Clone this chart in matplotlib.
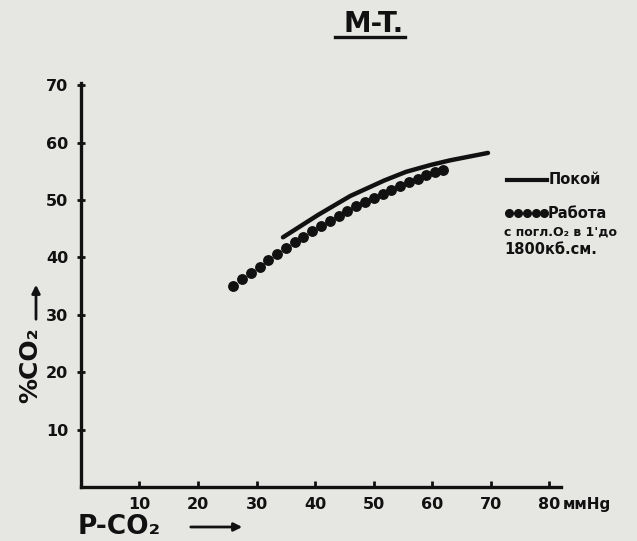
import matplotlib.pyplot as plt
from matplotlib.lines import Line2D

# "Покой" (rest) - solid curve
rest_p = [34.5, 40.5, 46.0, 51.8, 55.5, 59.7, 63.0, 66.5, 69.5]
rest_co2 = [43.5, 47.4, 50.7, 53.4, 54.9, 56.1, 56.9, 57.6, 58.2]

# "Работа" (work) - dotted curve
work_p = [26.0, 27.5, 29.0, 30.5, 32.0, 33.5, 35.0, 36.5, 38.0, 39.5, 41.0, 42.5,
          44.0, 45.5, 47.0, 48.5, 50.0, 51.5, 53.0, 54.5, 56.0, 57.5, 59.0, 60.5, 61.8]
work_co2 = [35.0, 36.2, 37.3, 38.4, 39.5, 40.6, 41.6, 42.7, 43.6, 44.6, 45.5, 46.4,
            47.2, 48.1, 48.9, 49.7, 50.4, 51.1, 51.8, 52.5, 53.1, 53.7, 54.3, 54.8, 55.2]

xticks = [10, 20, 30, 40, 50, 60, 70, 80]
yticks = [10, 20, 30, 40, 50, 60, 70]

ink = "#111111"
paper = "#e6e6e3"

fig = plt.figure(figsize=(6.37, 5.41), dpi=100, facecolor=paper)
ax = fig.add_axes([0.127, 0.0998, 0.754, 0.747], facecolor=paper)

ax.plot(rest_p, rest_co2, color=ink, lw=3.2, solid_capstyle="round")
ax.plot(work_p, work_co2, "o", color=ink, ms=6.8, mec=ink)

ax.set_xlim(0, 82)
ax.set_ylim(0, 70.4)
ax.set_xticks(xticks)
ax.set_yticks(yticks)
ax.set_xticklabels([str(t) for t in xticks], fontsize=11.5, fontweight="bold", color=ink)
ax.set_yticklabels([str(t) for t in yticks], fontsize=11.5, fontweight="bold", color=ink)
ax.tick_params(axis="x", direction="in", length=4, width=2, pad=7, color=ink)
ax.tick_params(axis="y", direction="inout", length=6, width=2, pad=6, color=ink)

for s in ["top", "right"]:
    ax.spines[s].set_visible(False)
for s in ["left", "bottom"]:
    ax.spines[s].set_linewidth(2.4)
    ax.spines[s].set_color(ink)

ax.text(82.2, -0.043, "ммHg", transform=ax.get_xaxis_transform(), fontsize=11,
        fontweight="bold", color=ink, ha="left", va="center")

# title, underlined
fig.text(0.586, 0.955, "M-T.", fontsize=20, fontweight="bold", color=ink,
         ha="center", va="center")
fig.add_artist(Line2D([335 / 637, 405 / 637], [1 - 37 / 541, 1 - 37 / 541],
                      color=ink, lw=2.4))

# axis labels with arrows
fig.text(0.122, 0.013, "P-CO₂", fontsize=19, fontweight="bold", color=ink,
         ha="left", va="baseline")
fig.text(0.047, 0.325, "%CO₂", fontsize=18, fontweight="bold", color=ink,
         rotation=90, ha="center", va="center")
ax.annotate("", xy=(245 / 637, 1 - 527 / 541), xytext=(188 / 637, 1 - 527 / 541),
            xycoords="figure fraction",
            arrowprops=dict(arrowstyle="-|>", color=ink, lw=2, mutation_scale=12))
ax.annotate("", xy=(36 / 637, 1 - 282 / 541), xytext=(36 / 637, 1 - 322 / 541),
            xycoords="figure fraction",
            arrowprops=dict(arrowstyle="-|>", color=ink, lw=2, mutation_scale=12))

# legend drawn by hand
fig.add_artist(Line2D([507 / 637, 547 / 637], [1 - 180 / 541] * 2, color=ink, lw=3))
fig.text(549 / 637, 1 - 180 / 541, "Покой", fontsize=10.5, fontweight="bold",
         color=ink, ha="left", va="center")
fig.add_artist(Line2D([509 / 637, 518 / 637, 527 / 637, 536 / 637, 544 / 637],
                      [1 - 213 / 541] * 5, ls="none", marker="o", ms=5.5, color=ink))
fig.text(548 / 637, 1 - 213 / 541, "Работа", fontsize=10.5, fontweight="bold",
         color=ink, ha="left", va="center")
fig.text(504 / 637, 1 - 232 / 541, "с погл.O₂ в 1'до", fontsize=9, fontweight="bold",
         color=ink, ha="left", va="center")
fig.text(504 / 637, 1 - 249 / 541, "1800кб.см.", fontsize=10.5, fontweight="bold",
         color=ink, ha="left", va="center")

fig.savefig("out.png", dpi=100, facecolor=paper)
